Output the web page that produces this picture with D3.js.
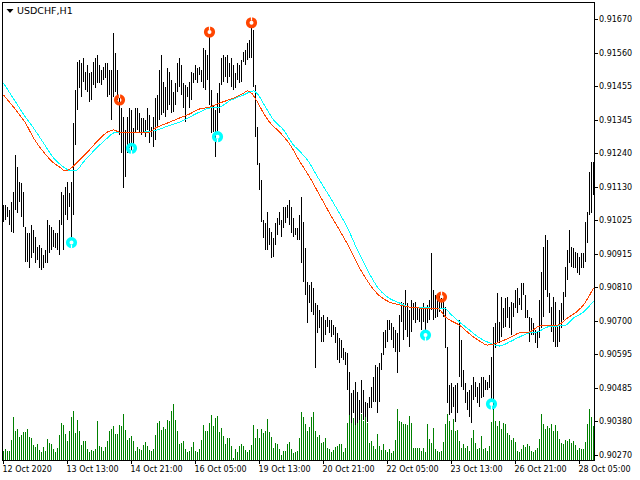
<!DOCTYPE html>
<html><head><meta charset="utf-8">
<script src="https://cdn.jsdelivr.net/npm/d3@7/dist/d3.min.js"></script>
<style>html,body{margin:0;padding:0;background:#fff;}svg{display:block;}</style>
</head><body>
<svg id="c" width="640" height="480"></svg>
<script>
const symbol = "USDCHF,H1";
const timeLabels = ["12 Oct 2020","13 Oct 13:00","14 Oct 21:00","16 Oct 05:00","19 Oct 13:00","20 Oct 21:00","22 Oct 05:00","23 Oct 13:00","26 Oct 21:00","28 Oct 05:00"];
const timeTickBars = [0,32,64,96,128,160,192,224,256,288];
const priceTicks = [0.91670,0.91560,0.91455,0.91345,0.91240,0.91130,0.91025,0.90915,0.90810,0.90700,0.90595,0.90485,0.90380,0.90270];

const highs = [
0.91073,0.91073,0.91066,0.91057,0.91082,0.91114,0.91233,0.91195,0.91147,0.91143,
0.91114,0.91002,0.90983,0.90983,0.91009,0.90992,0.90970,0.90938,0.90944,0.90935,
0.90912,0.90928,0.91025,0.91009,0.91002,0.90992,0.90983,0.90983,0.91025,0.91114,
0.91105,0.91131,0.91147,0.91111,0.91147,0.91336,0.91442,0.91532,0.91538,0.91529,
0.91545,0.91500,0.91522,0.91497,0.91500,0.91532,0.91545,0.91554,0.91522,0.91506,
0.91516,0.91529,0.91529,0.91506,0.91506,0.91625,0.91561,0.91506,0.91420,0.91384,
0.91355,0.91314,0.91355,0.91384,0.91378,0.91320,0.91384,0.91384,0.91368,0.91352,
0.91352,0.91346,0.91384,0.91362,0.91323,0.91355,0.91416,0.91426,0.91506,0.91554,
0.91468,0.91452,0.91513,0.91500,0.91474,0.91436,0.91464,0.91529,0.91545,0.91522,
0.91464,0.91458,0.91452,0.91468,0.91500,0.91497,0.91522,0.91513,0.91516,0.91506,
0.91577,0.91570,0.91554,0.91622,0.91442,0.91394,0.91378,0.91432,0.91464,0.91545,
0.91554,0.91548,0.91554,0.91529,0.91545,0.91522,0.91497,0.91529,0.91522,0.91538,
0.91564,0.91570,0.91593,0.91603,0.91651,0.91635,0.91458,0.91323,0.91208,0.91153,
0.91025,0.91015,0.91050,0.90999,0.90986,0.90967,0.91015,0.91031,0.91050,0.91025,
0.91066,0.91066,0.91073,0.91089,0.91066,0.91031,0.90999,0.90999,0.91041,0.91098,
0.91018,0.90935,0.90826,0.90816,0.90826,0.90806,0.90758,0.90752,0.90736,0.90713,
0.90720,0.90703,0.90713,0.90703,0.90703,0.90687,0.90681,0.90662,0.90646,0.90639,
0.90614,0.90601,0.90597,0.90537,0.90469,0.90479,0.90504,0.90472,0.90447,0.90511,
0.90479,0.90440,0.90437,0.90456,0.90488,0.90520,0.90559,0.90553,0.90565,0.90597,
0.90665,0.90671,0.90703,0.90703,0.90694,0.90681,0.90671,0.90662,0.90720,0.90761,
0.90758,0.90800,0.90758,0.90736,0.90768,0.90758,0.90761,0.90745,0.90742,0.90745,
0.90758,0.90742,0.90752,0.90768,0.90919,0.90800,0.90784,0.90768,0.90784,0.90774,
0.90761,0.90745,0.90617,0.90495,0.90501,0.90488,0.90495,0.90501,0.90703,0.90639,
0.90543,0.90501,0.90472,0.90479,0.90495,0.90520,0.90504,0.90488,0.90501,0.90520,
0.90520,0.90511,0.90504,0.90527,0.90585,0.90681,0.90694,0.90790,0.90697,0.90777,
0.90742,0.90774,0.90777,0.90745,0.90761,0.90758,0.90800,0.90806,0.90774,0.90822,
0.90822,0.90784,0.90736,0.90713,0.90710,0.90694,0.90671,0.90665,0.90768,0.90858,
0.90938,0.90976,0.90960,0.90790,0.90745,0.90777,0.90761,0.90687,0.90736,0.90758,
0.90793,0.90874,0.90928,0.90992,0.90938,0.90935,0.90922,0.90919,0.90906,0.90919,
0.90919,0.91018,0.91050,0.91179,0.91211,0.91211];

const lows = [
0.91018,0.91025,0.91034,0.91009,0.90986,0.90983,0.91057,0.91047,0.91082,0.91034,
0.91002,0.90890,0.90890,0.90871,0.90903,0.90919,0.90887,0.90896,0.90871,0.90864,
0.90871,0.90887,0.90887,0.90919,0.90928,0.90938,0.90935,0.90928,0.90912,0.91009,
0.90928,0.91041,0.91025,0.91066,0.90970,0.91041,0.91265,0.91378,0.91448,0.91420,
0.91468,0.91442,0.91436,0.91403,0.91410,0.91458,0.91448,0.91464,0.91464,0.91458,
0.91474,0.91481,0.91420,0.91426,0.91346,0.91420,0.91436,0.91410,0.91298,0.91240,
0.91127,0.91163,0.91240,0.91256,0.91243,0.91265,0.91304,0.91314,0.91307,0.91298,
0.91304,0.91291,0.91314,0.91272,0.91291,0.91259,0.91281,0.91320,0.91346,0.91362,
0.91368,0.91355,0.91378,0.91394,0.91368,0.91371,0.91394,0.91436,0.91452,0.91426,
0.91384,0.91339,0.91420,0.91384,0.91410,0.91464,0.91474,0.91464,0.91490,0.91468,
0.91448,0.91442,0.91474,0.91394,0.91304,0.91307,0.91227,0.91304,0.91368,0.91458,
0.91468,0.91484,0.91464,0.91484,0.91452,0.91442,0.91448,0.91474,0.91464,0.91468,
0.91532,0.91522,0.91538,0.91545,0.91545,0.91452,0.91291,0.91201,0.91121,0.91018,
0.90967,0.90928,0.90928,0.90944,0.90903,0.90906,0.90944,0.90976,0.91009,0.90970,
0.90999,0.91015,0.91031,0.91009,0.90983,0.90970,0.90976,0.90960,0.90960,0.90887,
0.90826,0.90784,0.90694,0.90758,0.90729,0.90720,0.90549,0.90662,0.90678,0.90633,
0.90633,0.90655,0.90681,0.90662,0.90649,0.90655,0.90630,0.90575,0.90565,0.90581,
0.90575,0.90559,0.90479,0.90398,0.90373,0.90405,0.90366,0.90373,0.90382,0.90405,
0.90382,0.90392,0.90376,0.90421,0.90421,0.90440,0.90440,0.90405,0.90440,0.90543,
0.90591,0.90614,0.90633,0.90671,0.90639,0.90614,0.90601,0.90533,0.90601,0.90697,
0.90639,0.90671,0.90649,0.90617,0.90665,0.90703,0.90694,0.90703,0.90697,0.90671,
0.90697,0.90665,0.90694,0.90703,0.90736,0.90703,0.90710,0.90713,0.90729,0.90742,
0.90713,0.90614,0.90437,0.90398,0.90405,0.90424,0.90376,0.90405,0.90520,0.90488,
0.90479,0.90437,0.90414,0.90392,0.90373,0.90447,0.90456,0.90437,0.90424,0.90453,
0.90456,0.90479,0.90479,0.90485,0.90447,0.90414,0.90614,0.90630,0.90630,0.90649,
0.90678,0.90681,0.90710,0.90678,0.90655,0.90713,0.90742,0.90726,0.90752,0.90736,
0.90784,0.90710,0.90710,0.90633,0.90655,0.90655,0.90630,0.90614,0.90646,0.90678,
0.90713,0.90800,0.90777,0.90726,0.90665,0.90633,0.90617,0.90617,0.90633,0.90678,
0.90703,0.90777,0.90832,0.90887,0.90874,0.90871,0.90871,0.90854,0.90848,0.90871,
0.90871,0.90890,0.90951,0.91041,0.91047,0.91105];

const volumes = [
280,340,260,280,600,1300,860,940,700,760,
840,840,930,700,660,460,380,480,300,230,
400,260,620,520,480,340,240,360,760,1120,
1040,780,580,880,1300,1480,800,1200,860,460,
580,580,340,250,300,280,340,1180,430,380,
280,380,580,860,930,1010,780,780,1060,1030,
1390,900,600,660,720,580,260,400,340,300,
460,550,420,300,280,330,760,1120,1160,900,
980,930,1200,1160,1480,1690,1200,880,480,500,
560,330,240,260,380,550,280,250,330,600,
1040,880,860,1120,1360,1030,1260,1330,830,960,
720,480,660,660,420,60,330,230,430,490,
420,300,250,300,460,1040,660,930,660,920,
800,860,1240,830,700,360,520,480,320,160,
260,260,480,550,340,200,230,260,650,1450,
1300,1080,880,980,1280,1450,880,700,760,500,
540,650,370,320,250,290,390,410,470,490,
250,370,1110,1370,1170,1270,1190,1150,1270,1370,
1170,1410,1120,520,570,420,320,790,420,300,
470,300,250,340,220,270,600,1530,1170,1150,
1070,1070,1040,1310,1120,370,350,350,350,270,
350,250,1070,620,520,970,320,270,250,270,
550,1070,1370,1170,900,1220,870,890,570,350,
470,370,420,270,650,900,520,320,370,720,
320,350,270,420,1150,1520,1170,1020,1170,940,
1100,1070,820,750,590,650,540,270,250,320,
440,390,470,410,270,250,310,370,620,1370,
1070,920,1020,970,1090,870,1050,870,620,520,
470,600,570,640,510,570,450,300,370,320,
320,540,1070,1530,1290,1020];

const maFastBars = [0,7,11,15,20,25,28,31,34,37,42,48,52,55,58,65,73,76,82,88,93,98,103,108,115,120,122,124,127,130,133,138,143,148,153,158,163,168,173,178,183,188,193,198,203,208,217,221,225,228,233,238,242,245,248,253,258,263,268,277,282,287,290,295];
const maFast = [0.91426,0.91371,0.91336,0.91288,0.91243,0.91208,0.91195,0.91182,0.91192,0.91211,0.91243,0.91285,0.91307,0.91314,0.91307,0.91307,0.91307,0.91320,0.91336,0.91352,0.91365,0.91381,0.91387,0.91400,0.91416,0.91432,0.91439,0.91432,0.91403,0.91368,0.91339,0.91307,0.91269,0.91214,0.91163,0.91105,0.91047,0.90992,0.90935,0.90871,0.90819,0.90781,0.90761,0.90752,0.90745,0.90742,0.90742,0.90713,0.90697,0.90687,0.90659,0.90636,0.90623,0.90626,0.90633,0.90646,0.90662,0.90665,0.90684,0.90687,0.90710,0.90732,0.90752,0.90806];

const maSlowBars = [0,7,11,15,20,25,30,34,36,40,48,52,55,58,65,70,77,82,88,93,98,103,108,113,120,125,127,131,135,140,145,148,152,157,162,167,172,177,182,187,192,198,203,208,213,220,224,228,233,238,243,248,253,258,263,267,272,277,281,285,290,295];
const maSlow = [0.91464,0.91394,0.91355,0.91320,0.91272,0.91224,0.91195,0.91182,0.91182,0.91211,0.91265,0.91288,0.91304,0.91307,0.91304,0.91307,0.91314,0.91326,0.91339,0.91355,0.91371,0.91384,0.91387,0.91407,0.91426,0.91439,0.91429,0.91387,0.91346,0.91314,0.91265,0.91246,0.91217,0.91163,0.91111,0.91057,0.90999,0.90928,0.90864,0.90809,0.90777,0.90758,0.90745,0.90745,0.90742,0.90742,0.90720,0.90697,0.90671,0.90646,0.90630,0.90620,0.90633,0.90649,0.90662,0.90665,0.90681,0.90684,0.90687,0.90710,0.90729,0.90764];

const sellBars = [58,103,124,219];
const sellVals = [0.91410,0.91628,0.91658,0.90777];
const buyBars = [34,64,107,211,244];
const buyVals = [0.90952,0.91255,0.91292,0.90655,0.90434];

const svg = d3.select("#c");
const font = "DejaVu Sans";
const L = 2, T = 2, R = 594, B = 460;

const x = d3.scaleLinear().domain([0, highs.length - 1]).range([3.5, 3.5 + 2 * (highs.length - 1)]);
const y = d3.scaleLinear().domain([0.90270, 0.91670]).range([455, 19]);
const vy = d3.scaleLinear().domain([0, 3000]).range([B, B - 100]);

// volumes
svg.append("g").attr("shape-rendering", "crispEdges")
  .selectAll("rect").data(volumes).join("rect")
  .attr("x", (d, i) => x(i) - 0.5).attr("width", 1)
  .attr("y", d => vy(d)).attr("height", d => B - vy(d))
  .attr("fill", "#008000");

// price bars
const bars = highs.map((h, i) => ({ i, h, l: lows[i] }));
svg.append("g").attr("shape-rendering", "crispEdges")
  .selectAll("line").data(bars).join("line")
  .attr("x1", d => x(d.i)).attr("x2", d => x(d.i))
  .attr("y1", d => Math.round(y(d.h))).attr("y2", d => Math.max(Math.round(y(d.l)), Math.round(y(d.h)) + 1))
  .attr("stroke", "#000").attr("stroke-width", 1);

// moving averages
const line = d3.line().x(d => x(d[0])).y(d => y(d[1])).curve(d3.curveMonotoneX);
svg.append("path").datum(maSlowBars.map((b, k) => [b, maSlow[k]]))
  .attr("d", line).attr("fill", "none").attr("stroke", "#00FFFF").attr("stroke-width", 1)
  .attr("shape-rendering", "crispEdges");
svg.append("path").datum(maFastBars.map((b, k) => [b, maFast[k]]))
  .attr("d", line).attr("fill", "none").attr("stroke", "#FF4500").attr("stroke-width", 1)
  .attr("shape-rendering", "crispEdges");

// arrows
function arrows(barsIdx, vals, color, notchTop) {
  const g = svg.append("g").selectAll("g").data(barsIdx.map((b, k) => [b, vals[k]])).join("g")
    .attr("transform", d => `translate(${x(d[0])},${y(d[1])})`);
  g.append("circle").attr("r", 3.8).attr("fill", "none").attr("stroke", color).attr("stroke-width", 3.6);
  g.append("rect").attr("x", -0.6).attr("width", 1.2)
    .attr("y", notchTop ? -6 : 2.2).attr("height", 3.8).attr("fill", "#fff");
}
arrows(sellBars, sellVals, "#FF4500", true);
arrows(buyBars, buyVals, "#00FFFF", false);

// frame
const fr = svg.append("g").attr("shape-rendering", "crispEdges");
fr.append("rect").attr("x", L + 0.5).attr("y", T + 0.5).attr("width", R - L).attr("height", B - T)
  .attr("fill", "none").attr("stroke", "#000");

// price axis
priceTicks.forEach(t => {
  const yy = Math.round(y(t));
  fr.append("line").attr("x1", R).attr("x2", R + 4).attr("y1", yy + 0.5).attr("y2", yy + 0.5).attr("stroke", "#000");
  svg.append("text").attr("x", R + 5).attr("y", yy + 3).attr("font-family", font).attr("font-size", 8)
    .attr("fill", "#000").text(t.toFixed(5));
});

// time axis
timeTickBars.forEach((b, k) => {
  fr.append("line").attr("x1", x(b)).attr("x2", x(b)).attr("y1", B).attr("y2", B + 4).attr("stroke", "#000");
  svg.append("text").attr("x", x(b) - 1).attr("y", 472).attr("font-family", font).attr("font-size", 8)
    .attr("fill", "#000").text(timeLabels[k]);
});

// title
svg.append("path").attr("d", "M6.5,9L13.5,9L10,13Z").attr("fill", "#000");
svg.append("text").attr("x", 17).attr("y", 14).attr("font-family", font).attr("font-size", 9.5)
  .attr("fill", "#000").text(symbol);
</script>
</body></html>
